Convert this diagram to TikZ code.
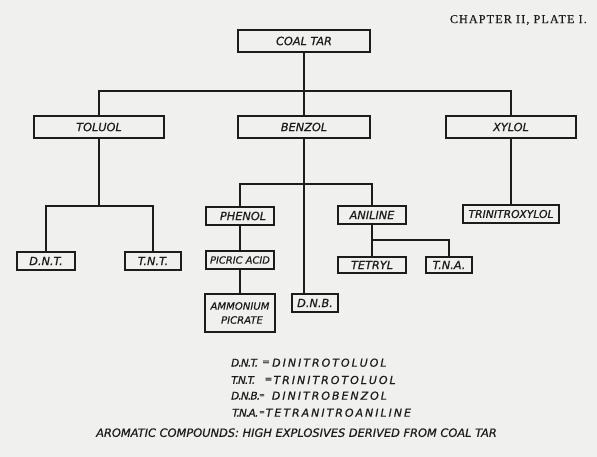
\documentclass[tikz,border=0pt]{standalone}
\usepackage{fontspec}
\newfontfamily\hand[FakeBold=0.6]{DejaVu Sans}
\newfontfamily\handwide[LetterSpace=18,FakeBold=0.6]{DejaVu Sans}
\newfontfamily\handtight[LetterSpace=-8,FakeBold=0.6]{DejaVu Sans}
\newfontfamily\platefont[LetterSpace=10,FakeBold=0.4]{Liberation Serif}
\definecolor{paper}{RGB}{240,240,238}
\definecolor{ink}{RGB}{28,28,28}
\begin{document}
\begin{tikzpicture}[x=1pt,y=-1pt,
  box/.style={draw=ink,line width=1.6pt,inner sep=0pt,outer sep=0pt,align=center,
    font=\hand\itshape\fontsize{11.3}{12}\selectfont,text=ink},
  wire/.style={draw=ink,line width=1.6pt},
  legendkey/.style={inner sep=0pt,anchor=west,text=ink,
    font=\handtight\itshape\fontsize{10.5}{12}\selectfont},
  legendeq/.style={inner sep=0pt,text=ink,
    font=\hand\fontsize{9}{12}\selectfont},
  legendwide/.style={inner sep=0pt,anchor=west,text=ink,
    font=\handwide\itshape\fontsize{11}{12}\selectfont}]
\fill[paper] (0,0) rectangle (597,457);
\useasboundingbox (0,0) rectangle (597,457);

\node[inner sep=0pt,anchor=east,text=ink,font=\platefont\fontsize{12}{13}\selectfont] (plate) at (587,20) {CHAPTER II, PLATE I.};

% boxes
\node[box,minimum width=132pt,minimum height=22pt] (coaltar) at (304,41) {COAL TAR};
\node[box,minimum width=130pt,minimum height=22pt] (toluol) at (99,127) {TOLUOL};
\node[box,minimum width=132pt,minimum height=22pt] (benzol) at (304,127) {BENZOL};
\node[box,minimum width=130pt,minimum height=22pt] (xylol) at (511,127) {XYLOL};
\node[box,minimum width=58pt,minimum height=18pt] (dnt) at (46,261) {D.N.T.};
\node[box,minimum width=56pt,minimum height=18pt] (tnt) at (153,261) {T.N.T.};
\node[box,minimum width=68pt,minimum height=18pt] (phenol) at (240,216) {\hspace{6pt}PHENOL};
\node[box,minimum width=68pt,minimum height=18pt,font=\hand\itshape\fontsize{9.9}{12}\selectfont] (picric) at (240,260) {PICRIC ACID};
\node[box,minimum width=70pt,minimum height=38pt,font=\hand\itshape\fontsize{10.1}{14}\selectfont] (ammonium) at (240,313) {AMMONIUM\\\hspace{4pt}PICRATE};
\node[box,minimum width=46pt,minimum height=18pt] (dnb) at (315,303) {D.N.B.};
\node[box,minimum width=68pt,minimum height=18pt] (aniline) at (372,215) {ANILINE};
\node[box,minimum width=68pt,minimum height=16pt] (tetryl) at (372,265) {TETRYL};
\node[box,minimum width=46pt,minimum height=16pt] (tna) at (449,265) {T.N.A.};
\node[box,minimum width=96pt,minimum height=18pt,font=\hand\itshape\fontsize{10.8}{12}\selectfont] (trinitroxylol) at (511,214) {TRINITROXYLOL};

% junctions
\coordinate (bus) at (304,91);
\coordinate (tsplit) at (99,206);
\coordinate (bsplit) at (304,184);
\coordinate (asplit) at (372,240);

% connectors
\draw[wire] (coaltar.south) -- (benzol.north);
\draw[wire] (toluol.north) |- (bus) -| (xylol.north);
\draw[wire] (toluol.south) -- (tsplit);
\draw[wire] (dnt.north) |- (tsplit) -| (tnt.north);
\draw[wire] (benzol.south) -- (benzol.south |- dnb.north);
\draw[wire] (phenol.north) |- (bsplit) -| (aniline.north);
\draw[wire] (phenol.south) -- (picric.north);
\draw[wire] (picric.south) -- (ammonium.north);
\draw[wire] (aniline.south) -- (asplit);
\draw[wire] (tetryl.north) |- (asplit) -| (tna.north);
\draw[wire] (xylol.south) -- (trinitroxylol.north);

% legend
\node[legendkey] (l1a) at (231,362.7) {D.N.T.};
\node[legendeq] (l1b) at (266,362.7) {=};
\node[legendwide] (l1c) at (272,362.7) {DINITROTOLUOL};
\node[legendkey] (l2a) at (231,380) {T.N.T.};
\node[legendeq] (l2b) at (268.5,380) {=};
\node[legendwide] (l2c) at (273.3,380) {TRINITROTOLUOL};
\node[legendkey] (l3a) at (231,395.7) {D.N.B.};
\node[legendeq,font=\hand\fontsize{7}{12}\selectfont] (l3b) at (262,395.7) {=};
\node[legendwide] (l3c) at (271.7,395.7) {DINITROBENZOL};
\node[legendkey] (l4a) at (232,412.7) {T.N.A.};
\node[legendeq,font=\hand\fontsize{7}{12}\selectfont] (l4b) at (262,412.7) {=};
\node[legendwide] (l4c) at (265.5,412.7) {TETRANITROANILINE};

\node[inner sep=0pt,text=ink,font=\hand\itshape\fontsize{11.4}{12}\selectfont] (caption) at (296.5,432.7) {AROMATIC COMPOUNDS: HIGH EXPLOSIVES DERIVED FROM COAL TAR};
\end{tikzpicture}
\end{document}
